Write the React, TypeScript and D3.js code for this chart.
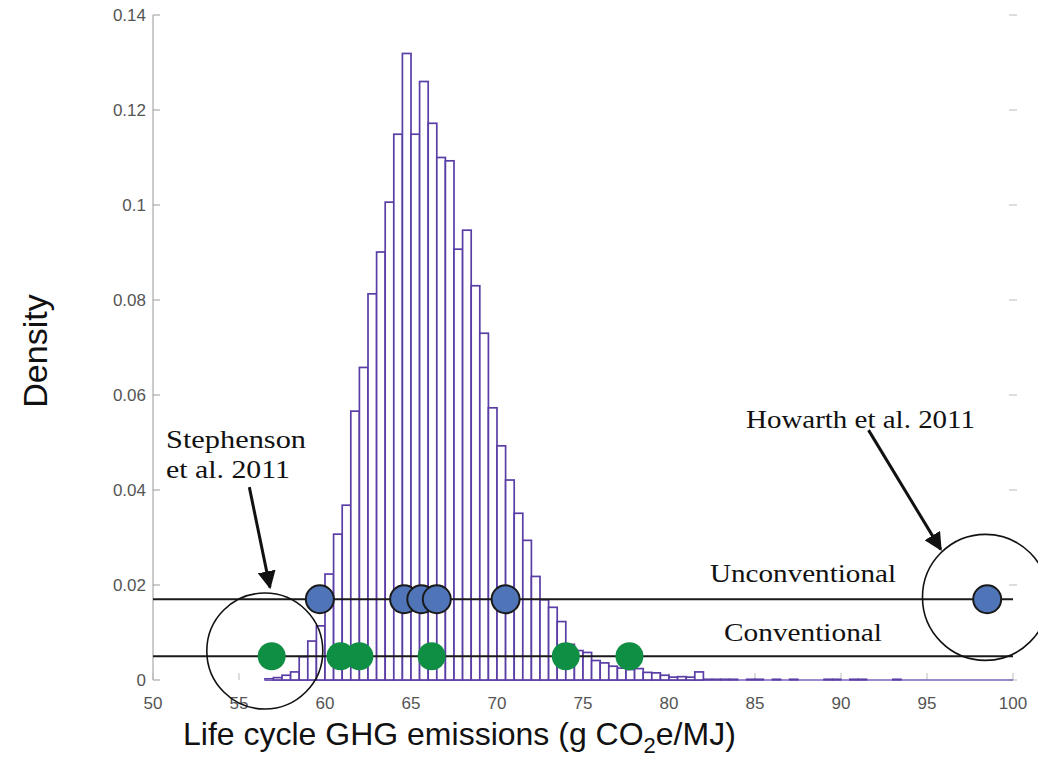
import React from "react";
import * as d3 from "d3";

// histogram of simulated life-cycle emissions, bins of 0.5 starting at 56.5
const BIN_START = 56.5;
const BIN_WIDTH = 0.5;
const densities = [
  0.0003, 0.0005, 0.001, 0.0017, 0.0049, 0.0082, 0.0114, 0.0223, 0.0307, 0.0368,
  0.0566, 0.0658, 0.0813, 0.0901, 0.1006, 0.1149, 0.1319, 0.1149, 0.126, 0.1172,
  0.11, 0.1093, 0.0907, 0.0947, 0.083, 0.073, 0.0573, 0.0493, 0.0421, 0.0351,
  0.0294, 0.0218, 0.0169, 0.0153, 0.0123, 0.0075, 0.0062, 0.0058, 0.0041, 0.0036,
  0.0029, 0.0025, 0.0022, 0.0024, 0.0016, 0.0015, 0.001, 0.0006, 0.0007, 0.0006,
  0.0017, 0.0002, 0.0002, 0.0002, 0.0002, 0, 0.0002, 0.0002, 0, 0.0002,
  0, 0.0002, 0, 0, 0, 0.0002, 0.0002, 0, 0.0002, 0.0002,
  0, 0, 0, 0.0002, 0, 0, 0, 0, 0, 0,
  0, 0, 0, 0, 0, 0, 0,
];

// literature estimates
const unconventionalY = 0.017;
const unconventional = [59.7, 64.6, 65.6, 66.5, 70.5, 98.5];
const conventionalY = 0.005;
const conventional = [56.9, 60.9, 62.0, 66.2, 74.0, 77.7];

const xTicks = [50, 55, 60, 65, 70, 75, 80, 85, 90, 95, 100];
const yTicks = [0, 0.02, 0.04, 0.06, 0.08, 0.1, 0.12, 0.14];

const W = 1038;
const H = 758;

export default function App() {
  const x = d3.scaleLinear().domain([50, 100]).range([153, 1013]);
  const y = d3.scaleLinear().domain([0, 0.14]).range([680, 15]);

  const bins = densities.map((d, i) => ({
    x0: BIN_START + i * BIN_WIDTH,
    x1: BIN_START + (i + 1) * BIN_WIDTH,
    d,
  }));

  const purple = "#5a3ea6";
  const sans = "'Liberation Sans', Arial, Helvetica, sans-serif";
  const serif = "'Liberation Serif', 'Times New Roman', serif";

  return (
    <svg
      width={W}
      height={H}
      style={{ position: "absolute", left: 0, top: 0, background: "#fff" }}
    >
      <defs>
        <marker id="head" viewBox="0 0 10 10" refX="9" refY="5" markerWidth="6" markerHeight="6" orient="auto">
          <path d="M0,0 L10,5 L0,10 z" fill="#111" />
        </marker>
      </defs>

      {/* axes */}
      <line x1={x(50)} x2={x(50)} y1={y(0)} y2={y(0.14)} stroke="#999" strokeWidth={1} />
      {yTicks.map((t) => (
        <g key={"y" + t}>
          <line x1={x(50)} x2={x(50) + 7} y1={y(t)} y2={y(t)} stroke="#999" />
          <line x1={x(100) - 4} x2={x(100) + 4} y1={y(t)} y2={y(t)} stroke="#bbb" />
          <text
            x={x(50) - 7}
            y={y(t)}
            dy="0.35em"
            textAnchor="end"
            fontFamily={sans}
            fontSize={17}
            fill="#555"
          >
            {t === 0 ? "0" : String(t)}
          </text>
        </g>
      ))}
      {xTicks.map((t) => (
        <g key={"x" + t}>
          <line x1={x(t)} x2={x(t)} y1={y(0)} y2={y(0) - 7} stroke="#bbb" />
          <text
            x={x(t)}
            y={y(0) + 29}
            textAnchor="middle"
            fontFamily={sans}
            fontSize={17}
            fill="#555"
          >
            {t}
          </text>
        </g>
      ))}

      {/* histogram */}
      <line x1={x(BIN_START)} x2={x(100)} y1={y(0)} y2={y(0)} stroke="#7a63bd" strokeWidth={1.5} />
      <g>
        {bins.filter((b) => b.d > 0).map((b, i) => (
          <rect
            key={i}
            x={x(b.x0)}
            y={y(b.d)}
            width={x(b.x1) - x(b.x0)}
            height={y(0) - y(b.d)}
            fill="#fff"
            stroke={purple}
            strokeWidth={b.d < 0.0005 ? 1.2 : 1.7}
          />
        ))}
      </g>

      {/* reference lines */}
      <line x1={x(50)} x2={x(100)} y1={y(unconventionalY)} y2={y(unconventionalY)} stroke="#1a1a1a" strokeWidth={2} />
      <line x1={x(50)} x2={x(100)} y1={y(conventionalY)} y2={y(conventionalY)} stroke="#1a1a1a" strokeWidth={2} />

      {/* highlight circles */}
      <circle cx={x(56.5)} cy={y(0.0061)} r={58} fill="none" stroke="#111" strokeWidth={1.6} />
      <circle cx={x(98.4)} cy={y(0.0174)} r={63} fill="none" stroke="#111" strokeWidth={1.6} />

      {conventional.map((v, i) => (
        <circle key={"c" + i} cx={x(v)} cy={y(conventionalY)} r={14} fill="#0e8f43" />
      ))}
      {unconventional.map((v, i) => (
        <circle key={"u" + i} cx={x(v)} cy={y(unconventionalY)} r={14} fill="#4f74b8" stroke="#1a1a1a" strokeWidth={2} />
      ))}

      {/* arrows */}
      <line
        x1={x(55.6)}
        y1={y(0.0406)}
        x2={x(56.8)}
        y2={y(0.0195)}
        stroke="#111"
        strokeWidth={3}
        markerEnd="url(#head)"
      />
      <line
        x1={x(91.6)}
        y1={y(0.0526)}
        x2={x(95.8)}
        y2={y(0.0275)}
        stroke="#111"
        strokeWidth={3}
        markerEnd="url(#head)"
      />

      {/* annotations */}
      <g fontFamily={serif} fontSize={26} fill="#111">
        <text x={166} y={448} textLength={140} lengthAdjust="spacingAndGlyphs">Stephenson</text>
        <text x={166} y={478} textLength={124} lengthAdjust="spacingAndGlyphs">et al. 2011</text>
        <text x={746} y={428} textLength={229} lengthAdjust="spacingAndGlyphs">Howarth et al. 2011</text>
        <text x={710} y={582} textLength={186} lengthAdjust="spacingAndGlyphs">Unconventional</text>
        <text x={724} y={641} textLength={158} lengthAdjust="spacingAndGlyphs">Conventional</text>
      </g>

      {/* axis titles */}
      <text x={183} y={745} fontFamily={sans} fontSize={32} fill="#111">
        Life cycle GHG emissions (g CO
        <tspan fontSize={22} dy={8}>2</tspan>
        <tspan dy={-8}>e/MJ)</tspan>
      </text>
      <text
        transform="translate(47,351) rotate(-90)"
        textAnchor="middle"
        fontFamily={sans}
        fontSize={34}
        fill="#111"
      >
        Density
      </text>
    </svg>
  );
}
